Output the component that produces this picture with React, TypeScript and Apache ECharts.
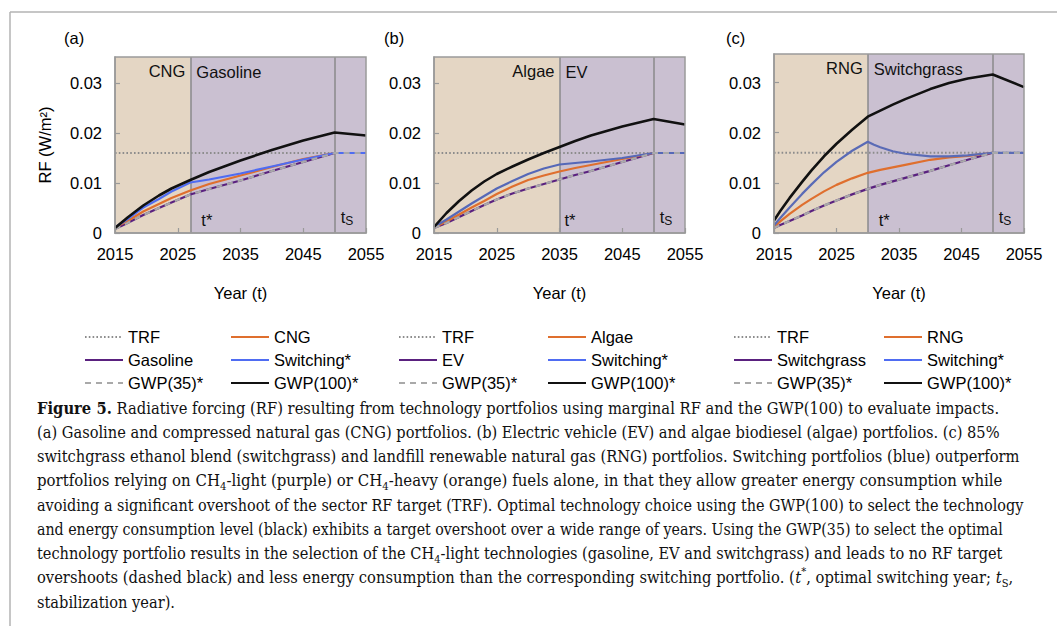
import React, { useEffect, useRef } from "react";
import * as echarts from "echarts";

// ---------------- data ----------------
const BASE_YEAR = 2015;
const END_YEAR = 2055;
const TRF = 0.016;
const TS_YEAR = 2050;
const TRF_YEARS = [2015, 2055];

// Panel (a): CNG / Gasoline
const yearsA = [2015, 2017, 2019.5, 2022, 2024, 2027, 2030, 2035, 2040, 2045, 2050, 2055];
const gwp100A = [0.0010, 0.0031, 0.0055, 0.0075, 0.0089, 0.0106, 0.0122, 0.0145, 0.0166, 0.0185, 0.0201, 0.0195];
const switchA = [0.0011, 0.0028, 0.0051, 0.0068, 0.0083, 0.0101, 0.0107, 0.0119, 0.0133, 0.0147, 0.0160, 0.0160];
const cngA = [0.0011, 0.0024, 0.0043, 0.0058, 0.0070, 0.0085, 0.0098, 0.0115, 0.0132, 0.0148, 0.0160, null];
const gasolineA = [0.0008, 0.0020, 0.0036, 0.0050, 0.0061, 0.0077, 0.0088, 0.0105, 0.0124, 0.0142, 0.0160, null];
const gwp35A = [0.0008, 0.0020, 0.0036, 0.0050, 0.0061, 0.0077, 0.0088, 0.0105, 0.0124, 0.0142, 0.0160, 0.0160];

// Panel (b): Algae / EV
const yearsB = [2015, 2017, 2019, 2021, 2023, 2025, 2027.5, 2030, 2032.5, 2035, 2037.5, 2040, 2045, 2050, 2055];
const gwp100B = [0.0012, 0.0040, 0.0064, 0.0085, 0.0103, 0.0118, 0.0133, 0.0147, 0.0160, 0.0172, 0.0184, 0.0195, 0.0213, 0.0228, 0.0217];
const switchB = [0.0012, 0.0027, 0.0043, 0.0059, 0.0074, 0.0089, 0.0104, 0.0118, 0.0129, 0.0137, 0.0140, 0.0143, 0.0150, 0.0160, 0.0160];
const algaeB = [0.0011, 0.0023, 0.0037, 0.0051, 0.0064, 0.0078, 0.0093, 0.0106, 0.0115, 0.0123, 0.0130, 0.0136, 0.0148, 0.0160, null];
const evB = [0.0010, 0.0020, 0.0032, 0.0044, 0.0056, 0.0067, 0.0079, 0.0089, 0.0098, 0.0107, 0.0116, 0.0124, 0.0142, 0.0160, null];
const gwp35B = [0.0010, 0.0020, 0.0032, 0.0044, 0.0056, 0.0067, 0.0079, 0.0089, 0.0098, 0.0107, 0.0116, 0.0124, 0.0142, 0.0160, 0.0160];

// Panel (c): RNG / Switchgrass
const yearsC = [2015, 2016, 2017.5, 2019.5, 2021, 2023, 2025, 2027.5, 2030, 2031, 2032, 2034, 2036, 2040, 2043, 2046, 2050, 2055];
const gwp100C = [0.0025, 0.0044, 0.0070, 0.0102, 0.0125, 0.0153, 0.0178, 0.0206, 0.0232, 0.0238, 0.0244, 0.0256, 0.0267, 0.0287, 0.0299, 0.0308, 0.0316, 0.0291];
const switchC = [0.0015, 0.0030, 0.0051, 0.0078, 0.0097, 0.0121, 0.0142, 0.0164, 0.0182, 0.0176, 0.0171, 0.0163, 0.0158, 0.0153, 0.0153, 0.0155, 0.0160, 0.0160];
const rngC = [0.0012, 0.0023, 0.0038, 0.0056, 0.0068, 0.0083, 0.0096, 0.0109, 0.0120, 0.0123, 0.0126, 0.0131, 0.0136, 0.0146, 0.0151, 0.0154, 0.0160, null];
const switchgrassC = [0.0010, 0.0016, 0.0024, 0.0035, 0.0044, 0.0055, 0.0065, 0.0077, 0.0088, 0.0092, 0.0096, 0.0103, 0.0110, 0.0124, 0.0135, 0.0146, 0.0160, null];
const gwp35C = [0.0010, 0.0016, 0.0024, 0.0035, 0.0044, 0.0055, 0.0065, 0.0077, 0.0088, 0.0092, 0.0096, 0.0103, 0.0110, 0.0124, 0.0135, 0.0146, 0.0160, 0.0160];

const X_TICK_INTERVAL = 10;
const Y_TICK_INTERVAL = 0.01;

// ---------------- styles ----------------
const FONT = "'Liberation Sans', Arial, Helvetica, sans-serif";
const SERIF = "'DejaVu Serif', 'Liberation Serif', serif";
const FS = 16.5;
const TAN = "#e4d6c4";
const LAV = "#cac0d1";
const BORDER = "#9a9a9a";
const VLINE = "#8a8a8a";
const ORANGE = "#df6f2e";
const PURPLE = "#5a217f";
const GRAY = "#a9a9a9";
const BLACK = "#111111";
const TRF_COLOR = "#8c8c8c";

const PANELS = [
  {
    label: "(a)", labelX: 64, left: 115, top: 57, width: 251, height: 176, yMax: 0.0352,
    tStar: 2027, heavy: "CNG", light: "Gasoline", starDx: 6,
    years: yearsA, gwp100: gwp100A, sw: switchA, heavyVals: cngA, lightVals: gasolineA, gwp35: gwp35A,
    blue: "#4f6cf2", yName: "RF (W/m\u00b2)",
  },
  {
    label: "(b)", labelX: 384, left: 434, top: 57, width: 251, height: 176, yMax: 0.0352,
    tStar: 2035, heavy: "Algae", light: "EV", starDx: 0,
    years: yearsB, gwp100: gwp100B, sw: switchB, heavyVals: algaeB, lightVals: evB, gwp35: gwp35B,
    blue: "#5568b8", yName: "",
  },
  {
    label: "(c)", labelX: 726, left: 774, top: 54, width: 250, height: 179, yMax: 0.0357,
    tStar: 2030, heavy: "RNG", light: "Switchgrass", starDx: 6,
    years: yearsC, gwp100: gwp100C, sw: switchC, heavyVals: rngC, lightVals: switchgrassC, gwp35: gwp35C,
    blue: "#5a6bb6", yName: "",
  },
];

const LEGENDS = [
  { left: 84, data: ["TRF", "Gasoline", "GWP(35)*"] },
  { left: 230, data: ["CNG", "Switching*", "GWP(100)*"] },
  { left: 398, data: ["TRF", "EV", "GWP(35)*"] },
  { left: 547, data: ["Algae", "Switching*", "GWP(100)*"] },
  { left: 733, data: ["TRF", "Switchgrass", "GWP(35)*"] },
  { left: 883, data: ["RNG", "Switching*", "GWP(100)*"] },
];

type Frag = [string, string];
const CAPTION: Frag[][] = [
  [["b", "Figure 5."], ["r", " Radiative forcing (RF) resulting from technology portfolios using marginal RF and the GWP(100) to evaluate impacts."]],
  [["r", "(a) Gasoline and compressed natural gas (CNG) portfolios. (b) Electric vehicle (EV) and algae biodiesel (algae) portfolios. (c) 85%"]],
  [["r", "switchgrass ethanol blend (switchgrass) and landfill renewable natural gas (RNG) portfolios. Switching portfolios (blue) outperform"]],
  [["r", "portfolios relying on CH"], ["sub", "4"], ["r", "-light (purple) or CH"], ["sub", "4"], ["r", "-heavy (orange) fuels alone, in that they allow greater energy consumption while"]],
  [["r", "avoiding a significant overshoot of the sector RF target (TRF). Optimal technology choice using the GWP(100) to select the technology"]],
  [["r", "and energy consumption level (black) exhibits a target overshoot over a wide range of years. Using the GWP(35) to select the optimal"]],
  [["r", "technology portfolio results in the selection of the CH"], ["sub", "4"], ["r", "-light technologies (gasoline, EV and switchgrass) and leads to no RF target"]],
  [["r", "overshoots (dashed black) and less energy consumption than the corresponding switching portfolio. ("], ["i", "t"], ["sup", "*"], ["r", ", optimal switching year; "], ["i", "t"], ["sub", "S"], ["r", ","]],
  [["r", "stabilization year)."]],
];
// right ends of the justified-looking lines; last line uses the mean condensation
const CAPTION_RIGHT = [1000, 1000, 1020, 1003, 1024, 1003, 1003, 1013, 0];
const CAPTION_LEFT = 37;
const CAPTION_TOP = 408;
const CAPTION_STEP = 24.2;
const CAP_FS = 17;
const CAP_SUB_FS = 11.5;

const RICH_FONTS: Record<string, { style: string; weight: string; size: number }> = {
  r: { style: "normal", weight: "normal", size: CAP_FS },
  b: { style: "normal", weight: "bold", size: CAP_FS },
  i: { style: "italic", weight: "normal", size: CAP_FS },
  sub: { style: "normal", weight: "normal", size: CAP_SUB_FS },
  sup: { style: "normal", weight: "normal", size: CAP_SUB_FS },
};

const CAP_RICH = {
  r: { fontFamily: SERIF, fontSize: CAP_FS, lineHeight: 24, verticalAlign: "middle", fill: "#111" },
  b: { fontFamily: SERIF, fontSize: CAP_FS, lineHeight: 24, fontWeight: "bold", verticalAlign: "middle", fill: "#111" },
  i: { fontFamily: SERIF, fontSize: CAP_FS, lineHeight: 24, fontStyle: "italic", verticalAlign: "middle", fill: "#111" },
  sub: { fontFamily: SERIF, fontSize: CAP_SUB_FS, lineHeight: 12, verticalAlign: "bottom", fill: "#111" },
  sup: { fontFamily: SERIF, fontSize: CAP_SUB_FS, lineHeight: 12, verticalAlign: "top", fill: "#111" },
};

function measureLine(frags: Frag[]): number {
  const c = document.createElement("canvas");
  const ctx = c.getContext("2d");
  if (!ctx) return 1;
  let w = 0;
  for (const [k, s] of frags) {
    const f = RICH_FONTS[k];
    ctx.font = `${f.style} ${f.weight} ${f.size}px ${SERIF}`;
    w += ctx.measureText(s).width;
  }
  return w;
}

function toData(years: number[], vals: (number | null)[]) {
  const out: number[][] = [];
  years.forEach((y, i) => {
    const v = vals[i];
    if (v !== null && v !== undefined) out.push([y - BASE_YEAR, v]);
  });
  return out;
}

function lineSeries(name: string, gi: number, years: number[], vals: (number | null)[], color: string, width: number, type: any) {
  return {
    type: "line",
    name,
    xAxisIndex: gi,
    yAxisIndex: gi,
    data: toData(years, vals),
    showSymbol: false,
    symbol: "none",
    silent: true,
    z: 3,
    lineStyle: { color, width, type, cap: "butt" },
    itemStyle: { color },
  };
}

function buildOption() {
  const grid: any[] = [];
  const xAxis: any[] = [];
  const yAxis: any[] = [];
  const series: any[] = [];
  const title: any[] = [];

  const labelBase = { color: "#111", fontSize: FS, fontFamily: FONT };

  PANELS.forEach((p, gi) => {
    grid.push({
      left: p.left, top: p.top, width: p.width, height: p.height,
      show: true, borderColor: BORDER, borderWidth: 1.5, backgroundColor: "transparent",
      z: 6, outerBoundsMode: "none",
    });
    xAxis.push({
      type: "value", gridIndex: gi, min: 0, max: END_YEAR - BASE_YEAR, interval: X_TICK_INTERVAL, z: 6,
      axisLine: { show: true, lineStyle: { color: BORDER, width: 1.5 } },
      axisTick: { show: true, inside: true, length: 5, lineStyle: { color: BORDER, width: 1.2 } },
      splitLine: { show: false },
      axisLabel: { margin: 12, color: "#000", fontSize: FS, fontFamily: FONT, formatter: (v: number) => String(v + BASE_YEAR) },
      name: "Year (t)", nameLocation: "middle", nameGap: 51,
      nameTextStyle: { color: "#000", fontSize: FS, fontFamily: FONT },
    });
    yAxis.push({
      type: "value", gridIndex: gi, min: 0, max: p.yMax, interval: Y_TICK_INTERVAL, z: 6,
      axisLine: { show: true, lineStyle: { color: BORDER, width: 1.5 } },
      axisTick: { show: true, inside: true, length: 5, lineStyle: { color: BORDER, width: 1.2 } },
      splitLine: { show: false },
      axisLabel: {
        margin: 13, color: "#000", fontSize: FS, fontFamily: FONT, showMaxLabel: false,
        formatter: (v: number) => (v === 0 ? "0" : v.toFixed(2)),
      },
      name: p.yName, nameLocation: "middle", nameGap: 62,
      nameTextStyle: { color: "#000", fontSize: FS, fontFamily: FONT },
    });
    title.push({
      text: p.label, left: p.labelX, top: 29, padding: 0,
      textStyle: { color: "#000", fontSize: FS, fontWeight: "normal", fontFamily: FONT },
    });

    const ts = TS_YEAR - BASE_YEAR;
    const tsr = p.tStar - BASE_YEAR;
    const trf: any = lineSeries("TRF", gi, TRF_YEARS, TRF_YEARS.map(() => TRF), TRF_COLOR, 2, [1.6, 2.2]);
    trf.z = 2;
    trf.markArea = {
      silent: true,
      z: 1,
      data: [
        [
          { xAxis: 0, itemStyle: { color: TAN }, label: { ...labelBase, show: true, position: "insideTopRight", distance: 5, formatter: p.heavy } },
          { xAxis: tsr },
        ],
        [
          { xAxis: tsr, itemStyle: { color: LAV }, label: { ...labelBase, show: true, position: "insideTopLeft", distance: 6, formatter: p.light } },
          { xAxis: END_YEAR - BASE_YEAR },
        ],
        [
          {
            xAxis: tsr, itemStyle: { color: "rgba(0,0,0,0)" },
            label: { ...labelBase, show: true, position: "insideBottomLeft", distance: 5, offset: [p.starDx, 0], formatter: "t*" },
          },
          { xAxis: ts },
        ],
        [
          {
            xAxis: ts, itemStyle: { color: "rgba(0,0,0,0)" },
            label: {
              ...labelBase, show: true, position: "insideBottomLeft", distance: 6, formatter: "{t|t}{s|S}",
              rich: {
                t: { fontSize: FS, fontFamily: FONT, color: "#111", lineHeight: 20, verticalAlign: "middle" },
                s: { fontSize: 12, fontFamily: FONT, color: "#111", lineHeight: 12, verticalAlign: "bottom" },
              },
            },
          },
          { xAxis: END_YEAR - BASE_YEAR },
        ],
      ],
    };
    trf.markLine = {
      silent: true,
      z: 1,
      symbol: ["none", "none"],
      label: { show: false },
      lineStyle: { color: VLINE, width: 1.5, type: "solid" },
      data: [{ xAxis: tsr }, { xAxis: ts }],
    };
    series.push(trf);
    series.push(lineSeries(p.light, gi, p.years, p.lightVals, PURPLE, 2.2, "solid"));
    series.push(lineSeries(p.heavy, gi, p.years, p.heavyVals, ORANGE, 2.2, "solid"));
    series.push(lineSeries("Switching*", gi, p.years, p.sw, p.blue, 2.2, "solid"));
    series.push(lineSeries("GWP(35)*", gi, p.years, p.gwp35, GRAY, 2.2, [6, 5]));
    series.push(lineSeries("GWP(100)*", gi, p.years, p.gwp100, BLACK, 2.6, "solid"));
  });

  const legend = LEGENDS.map((l) => ({
    left: l.left, top: 328.5, orient: "vertical", padding: 0,
    itemWidth: 38, itemHeight: 14, itemGap: 6, selectedMode: false,
    itemStyle: { opacity: 0, borderWidth: 0 },
    textStyle: { color: "#000", fontSize: FS, fontFamily: FONT },
    data: l.data,
  }));

  const graphic: any[] = [
    { type: "line", silent: true, shape: { x1: 10, y1: 12, x2: 1057, y2: 12 }, style: { stroke: "#b3b3b3", lineWidth: 1.5 } },
    { type: "line", silent: true, shape: { x1: 10, y1: 12, x2: 10, y2: 626 }, style: { stroke: "#b3b3b3", lineWidth: 1.5 } },
  ];
  const scales: number[] = CAPTION.map((frags, i) => {
    const natural = measureLine(frags);
    const right = CAPTION_RIGHT[i];
    return right > 0 && natural > 0 ? (right - CAPTION_LEFT) / natural : 0;
  });
  const fitted = scales.filter((s) => s > 0);
  const meanScale = fitted.reduce((a, b) => a + b, 0) / Math.max(1, fitted.length);
  CAPTION.forEach((frags, i) => {
    const sx = scales[i] > 0 ? scales[i] : meanScale;
    graphic.push({
      type: "text",
      silent: true,
      x: CAPTION_LEFT,
      y: CAPTION_TOP + i * CAPTION_STEP,
      scaleX: sx,
      style: {
        text: frags.map(([k, s]) => `{${k}|${s}}`).join(""),
        rich: CAP_RICH,
        fill: "#111",
        fontFamily: SERIF,
        fontSize: CAP_FS,
        align: "left",
        verticalAlign: "middle",
        textAlign: "left",
        textVerticalAlign: "middle",
      },
    });
  });

  return {
    animation: false,
    backgroundColor: "#ffffff",
    textStyle: { fontFamily: FONT },
    title,
    grid,
    xAxis,
    yAxis,
    legend,
    series,
    graphic,
  };
}

export default function App() {
  const ref = useRef<HTMLDivElement>(null);
  useEffect(() => {
    document.body.style.margin = "0";
    if (!ref.current) return;
    const chart = echarts.init(ref.current, null, { renderer: "svg" });
    chart.setOption(buildOption() as any);
    return () => chart.dispose();
  }, []);
  return <div ref={ref} style={{ width: 1057, height: 626 }} />;
}
